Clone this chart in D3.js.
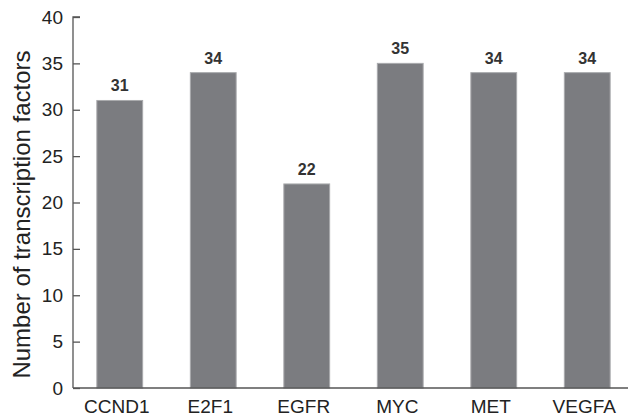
<!DOCTYPE html>
<html>
<head>
<meta charset="utf-8">
<script src="https://d3js.org/d3.v7.min.js"></script>
<style>
	body { margin: 0; background: #fff; }
	svg { display: block; font-family: 'Liberation Sans', Arial, sans-serif; }
</style>
</head>
<body>
<svg></svg>
<script>
'use strict'

let genes = ['CCND1', 'E2F1', 'EGFR', 'MYC', 'MET', 'VEGFA'],
	counts = [31, 34, 22, 35, 34, 34],
	y_ticks = [0, 5, 10, 15, 20, 25, 30, 35, 40]

let W = 630, H = 418,
	x0 = 73, x1 = 634, y0 = 388, y1 = 17,
	x = d3.scaleBand().domain(genes).range([x0, x1]).paddingInner(0.51).paddingOuter(0.255),
	y = d3.scaleLinear().domain([0, 40]).range([y0, y1])

let svg = d3.select('svg').attr('width', W).attr('height', H)

// bars
svg.append('g').selectAll('rect').data(d3.zip(genes, counts)).join('rect')
	.attr('x', d => x(d[0])).attr('width', x.bandwidth())
	.attr('y', d => y(d[1])).attr('height', d => y(0) - y(d[1]))
	.attr('fill', '#7b7c80').attr('stroke', '#a9aaad').attr('stroke-width', 1)

// value labels
svg.append('g').selectAll('text').data(d3.zip(genes, counts)).join('text')
	.attr('x', d => x(d[0]) + x.bandwidth() / 2).attr('y', d => y(d[1]) - 9)
	.attr('text-anchor', 'middle').attr('font-size', 16).attr('font-weight', 'bold')
	.attr('fill', '#333').text(d => d[1])

// y axis
svg.append('g').attr('transform', `translate(${x0} 0)`)
	.call(d3.axisRight(y).tickValues(y_ticks).tickSize(7).tickFormat(d3.format('d')))
	.call(s => {
		s.select('.domain').attr('stroke', '#555').attr('stroke-width', 1.3).attr('d', `M7,${y1}H0V${y0}`)
		s.selectAll('.tick line').attr('stroke', '#555').attr('stroke-width', 1.3)
		s.selectAll('.tick text').attr('x', -10).attr('text-anchor', 'end')
			.attr('font-size', 19).attr('fill', '#222') })

// x axis
svg.append('g').attr('transform', `translate(0 ${y0})`)
	.call(d3.axisBottom(x).tickSize(0).tickPadding(11))
	.call(s => {
		s.select('.domain').attr('stroke', '#555').attr('stroke-width', 1.3).attr('d', `M${x0},0H628`)
		s.selectAll('.tick text').attr('font-size', 19).attr('fill', '#222').attr('dy', '0.75em')
			.attr('dx', -3) })

// y title
svg.append('text')
	.attr('transform', `translate(30 ${(y0 + y1) / 2 + 12}) rotate(-90)`)
	.attr('text-anchor', 'middle').attr('font-size', 24).attr('fill', '#222')
	.text('Number of transcription factors')
</script>
</body>
</html>
